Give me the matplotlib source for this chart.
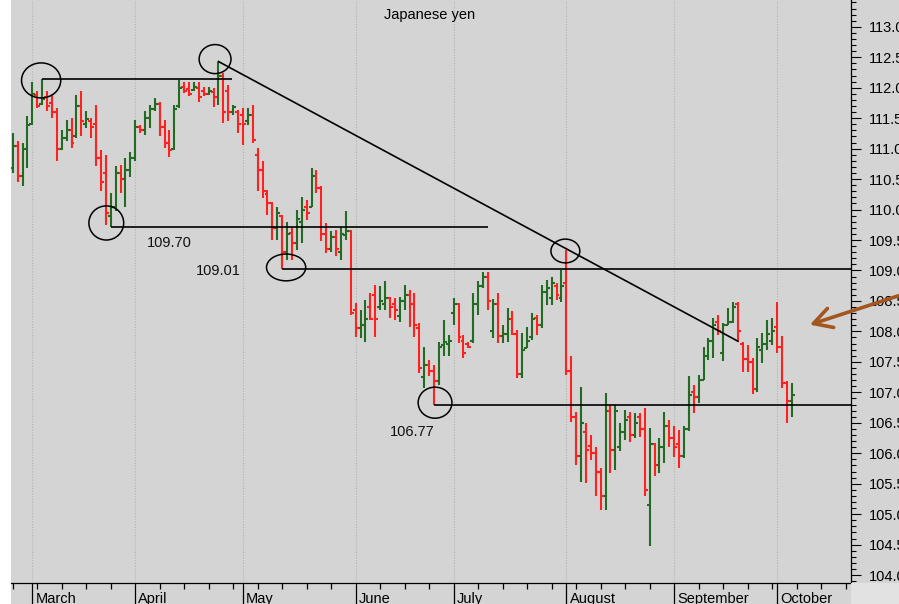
import numpy as np
import pandas as pd
import matplotlib
matplotlib.use("Agg")
import matplotlib.pyplot as plt
from matplotlib.patches import Ellipse, Rectangle
from matplotlib.ticker import FixedLocator, MultipleLocator, FormatStrFormatter, NullFormatter

plt.rcParams['font.family'] = ['Liberation Sans', 'DejaVu Sans']

# ---------------- data ----------------
title = "Japanese yen"
start_date = "2019-02-25"

opens = [110.68, 111.05, 110.55, 111.00, 111.40, 111.88, 111.74, 111.85, 111.75, 111.60,
         111.00, 111.18, 111.30, 111.20, 111.70, 111.40, 111.45, 111.40, 110.85, 110.60,
         109.90, 110.05, 110.60, 110.50, 110.65, 110.85, 111.35, 111.30, 111.50, 111.65,
         111.73, 111.35, 111.10, 111.00, 111.70, 112.02, 111.98, 111.96, 112.00, 111.95,
         111.90, 111.93, 111.85, 112.20, 111.95, 111.60, 111.60, 111.55, 111.45, 111.55,
         110.90, 110.65, 110.25, 110.10, 109.70, 109.90, 109.30, 109.62, 109.45, 109.80,
         110.05, 110.05, 110.55, 110.35, 109.60, 109.35, 109.55, 109.30, 109.58, 109.65,
         108.35, 108.05, 108.10, 108.40, 108.60, 108.40, 108.45, 108.55, 108.45, 108.25,
         108.50, 108.60, 108.45, 108.05, 107.25, 107.45, 107.35, 107.18, 107.78, 107.80,
         108.30, 108.45, 107.85, 107.80, 107.85, 108.45, 108.75, 108.90, 108.00, 108.45,
         107.92, 107.95, 108.20, 107.95, 107.30, 107.72, 107.90, 108.22, 108.10, 108.65,
         108.55, 108.75, 108.55, 108.80, 107.35, 106.60, 105.95, 106.35, 106.12, 106.00,
         105.70, 105.30, 106.70, 106.05, 106.10, 106.35, 106.60, 106.30, 106.60, 106.40,
         105.15, 106.15, 105.80, 106.10, 106.45, 106.25, 106.15, 105.95, 106.40, 107.00,
         106.92, 107.20, 107.60, 107.85, 108.15, 107.65, 108.11, 108.15, 108.45, 107.80,
         107.55, 107.50, 107.05, 107.70, 107.80, 107.85, 108.08, 107.75, 107.15, 106.85]

highs = [111.25, 111.12, 111.09, 111.53, 112.10, 111.94, 112.14, 111.94, 111.88, 111.66,
         111.31, 111.47, 111.50, 111.88, 111.94, 111.61, 111.50, 111.72, 110.98, 110.90,
         110.27, 110.71, 110.73, 110.84, 110.95, 111.47, 111.39, 111.61, 111.72, 111.83,
         111.77, 111.47, 111.31, 111.72, 112.13, 112.10, 112.10, 112.10, 112.10, 112.02,
         112.02, 111.99, 112.43, 112.24, 112.05, 111.72, 111.64, 111.66, 111.66, 111.72,
         111.01, 110.79, 110.32, 110.13, 110.05, 109.91, 109.80, 109.72, 109.99, 110.21,
         110.16, 110.68, 110.65, 110.38, 109.78, 109.64, 109.67, 109.72, 109.97, 109.67,
         108.46, 108.35, 108.52, 108.63, 108.76, 108.74, 108.82, 108.57, 108.55, 108.57,
         108.76, 108.68, 108.63, 108.13, 107.75, 107.53, 107.45, 107.83, 108.19, 107.94,
         108.55, 108.46, 107.94, 107.83, 108.63, 108.82, 108.98, 108.98, 108.54, 108.63,
         108.11, 108.38, 108.33, 108.02, 107.97, 108.08, 108.30, 108.27, 108.76, 108.85,
         108.90, 108.79, 109.01, 109.34, 107.59, 106.68, 107.09, 106.49, 106.30, 106.11,
         105.75, 106.99, 106.79, 106.79, 106.49, 106.71, 106.68, 106.66, 106.66, 106.74,
         106.41, 106.16, 106.25, 106.68, 106.55, 106.44, 106.38, 106.44, 107.26, 107.12,
         107.29, 107.75, 107.89, 108.22, 108.27, 108.13, 108.38, 108.49, 108.49, 107.83,
         107.78, 107.56, 107.89, 107.97, 108.19, 108.22, 108.49, 107.92, 107.18, 107.15]

lows = [110.60, 110.46, 110.38, 110.68, 111.39, 111.66, 111.72, 111.61, 111.50, 110.79,
        110.98, 111.12, 111.01, 111.17, 111.20, 111.34, 111.17, 110.71, 110.30, 109.75,
        109.72, 109.97, 110.27, 110.05, 110.54, 110.79, 111.25, 111.23, 111.34, 111.61,
        111.20, 111.01, 110.87, 110.98, 111.66, 111.91, 111.86, 111.94, 111.77, 111.86,
        111.88, 111.69, 111.72, 111.42, 111.45, 111.56, 111.25, 111.06, 111.39, 111.09,
        110.30, 110.19, 109.91, 109.50, 109.50, 109.02, 109.17, 109.17, 109.34, 109.45,
        109.83, 110.05, 110.27, 109.48, 109.28, 109.31, 109.23, 109.17, 109.50, 108.27,
        107.91, 107.89, 107.83, 108.19, 107.91, 108.35, 108.35, 108.22, 108.19, 108.16,
        108.35, 108.08, 107.91, 107.31, 107.07, 107.26, 106.79, 107.12, 107.59, 107.59,
        108.11, 107.81, 107.56, 107.72, 107.81, 108.27, 108.71, 108.35, 107.89, 107.81,
        107.81, 107.83, 107.94, 107.23, 107.23, 107.72, 107.86, 107.94, 108.05, 108.44,
        108.44, 108.52, 108.49, 107.29, 106.52, 105.81, 105.53, 105.51, 105.89, 105.29,
        105.07, 105.07, 105.67, 105.73, 106.03, 106.22, 106.19, 106.25, 106.27, 105.29,
        104.47, 105.62, 105.67, 105.84, 106.11, 105.94, 105.75, 105.92, 106.36, 106.66,
        106.82, 107.20, 107.53, 107.56, 107.94, 107.51, 108.11, 108.13, 107.83, 107.34,
        107.34, 106.98, 107.01, 107.48, 107.70, 107.78, 107.64, 107.07, 106.49, 106.60]

closes = [111.05, 110.55, 111.00, 111.39, 111.90, 111.70, 111.82, 111.70, 111.60, 111.00,
          111.18, 111.30, 111.10, 111.70, 111.45, 111.48, 111.35, 110.85, 110.45, 109.95,
          110.05, 110.60, 110.50, 110.65, 110.85, 111.35, 111.30, 111.50, 111.65, 111.73,
          111.35, 111.10, 110.97, 111.65, 112.00, 111.95, 111.90, 112.02, 111.85, 111.90,
          111.95, 111.85, 112.20, 111.60, 111.60, 111.68, 111.40, 111.40, 111.55, 111.15,
          110.65, 110.30, 110.10, 109.70, 109.95, 109.30, 109.60, 109.45, 109.85, 110.00,
          109.95, 110.55, 110.35, 109.60, 109.35, 109.55, 109.35, 109.60, 109.65, 108.30,
          108.05, 108.10, 108.20, 108.20, 108.20, 108.50, 108.55, 108.40, 108.35, 108.50,
          108.60, 108.45, 108.10, 107.40, 107.45, 107.35, 107.18, 107.75, 107.82, 107.85,
          108.45, 107.90, 107.65, 107.75, 108.45, 108.75, 108.90, 108.50, 108.45, 107.92,
          107.95, 108.20, 107.95, 107.30, 107.70, 107.85, 108.20, 108.10, 108.65, 108.72,
          108.80, 108.60, 108.75, 107.35, 106.60, 105.95, 106.50, 106.05, 106.00, 105.70,
          105.30, 106.70, 106.05, 106.70, 106.35, 106.55, 106.30, 106.50, 106.40, 105.40,
          106.15, 105.80, 106.10, 106.45, 106.25, 106.10, 105.95, 106.40, 106.95, 106.92,
          107.20, 107.60, 107.85, 108.10, 108.00, 108.10, 108.15, 108.40, 108.00, 107.55,
          107.50, 107.05, 107.75, 107.80, 107.95, 108.00, 107.75, 107.15, 106.85, 106.95]

month_names = ["March", "April", "May", "June", "July", "August", "September", "October"]

# annotation levels: (anchor bar, price, end bar or None = right edge)
level_bars = [6, 20, 55, 86]
level_prices = [highs[6], lows[20], lows[55], lows[86]]
level_ends = [44.8, 97.0, None, None]
level_labels = ["109.70", "109.01", "106.77"]
label_pos = [(31.9, 109.45), (41.9, 108.99), (81.5, 106.35)]
trend_start = (42, highs[42])
trend_end = (148, 107.84)
circle_centers = [(5.8, 112.12), (41.3, 112.47), (19.1, 109.78),
                  (55.8, 109.05), (112.8, 109.32), (86.2, 106.83)]
circle_sizes = [(8.0, 0.575), (6.5, 0.476), (7.1, 0.56),
                (8.0, 0.44), (5.9, 0.39), (6.9, 0.51)]

# ---------------- figure ----------------
W, H = 899, 604
BG = "#d4d4d4"
fig = plt.figure(figsize=(W / 100, H / 100), dpi=100)
fig.patch.set_facecolor(BG)
fig.patches.append(Rectangle((0, 0), 11 / W, 1, transform=fig.transFigure,
                             facecolor="white", edgecolor="none", zorder=0))
fig.patches.append(Rectangle((851 / W, 0), 48 / W, 21 / H, transform=fig.transFigure,
                             facecolor="#e2e2e2", edgecolor="none", zorder=0))

ax = fig.add_axes([11 / W, 21 / H, 840 / W, 583 / H])
ax.set_facecolor(BG)

n = len(closes)
x = np.arange(n)
o = np.array(opens); h = np.array(highs); l = np.array(lows); c = np.array(closes)
up = c >= o
cols = np.where(up, "#236b23", "#ff2020")

xmin, xmax = -0.35, 171.1
ax.set_xlim(xmin, xmax)
ax.set_ylim(103.87, 113.44)

dates = pd.bdate_range(start_date, periods=int(xmax) + 2)
idx = np.arange(len(dates))
month_starts = [i for i in idx[1:] if dates[i].month != dates[i - 1].month]
mondays = [i for i in idx if dates[i].dayofweek == 0]

# month grid lines
for m in month_starts:
    ax.axvline(m, color="#b4b4b4", lw=0.8, ls=(0, (1, 1.5)), zorder=1)

# OHLC bars
lw = 1.5
tick = 0.6
ax.vlines(x, l, h, colors=cols, lw=lw, zorder=3)
ax.hlines(o, x - tick, x, colors=cols, lw=lw, zorder=3)
ax.hlines(c, x, x + tick, colors=cols, lw=lw, zorder=3)

# horizontal levels
for b, p, e in zip(level_bars, level_prices, level_ends):
    ax.plot([b, e if e is not None else xmax], [p, p], color="black", lw=1.2, zorder=4,
            solid_capstyle="butt")

# trend line
ax.plot([trend_start[0], trend_end[0]], [trend_start[1], trend_end[1]],
        color="black", lw=1.2, zorder=4)

# circles
for (cx, cy), (cw, ch) in zip(circle_centers, circle_sizes):
    ax.add_patch(Ellipse((cx, cy), cw, ch, fill=False, edgecolor="black", lw=1.1, zorder=5))

# level labels
for txt, (tx, ty) in zip(level_labels, label_pos):
    ax.text(tx, ty, txt, ha="center", va="center", fontsize=10.5, color="#111111", zorder=6)

# brown arrow
ax.annotate("", xy=(162.7, 108.11), xytext=(182.5, 108.63), xycoords="data",
            textcoords="data", annotation_clip=False,
            arrowprops=dict(arrowstyle="->,head_length=0.65,head_width=0.36",
                            color="#a3561f", lw=2.6, mutation_scale=20,
                            shrinkA=0, shrinkB=0, clip_on=False))

# spines
for s in ["top", "left"]:
    ax.spines[s].set_visible(False)
ax.spines["right"].set_color("black")
ax.spines["bottom"].set_color("black")
ax.spines["right"].set_linewidth(0.9)
ax.spines["bottom"].set_linewidth(0.9)

# y axis on right
ax.yaxis.tick_right()
ax.yaxis.set_major_locator(MultipleLocator(0.5))
ax.yaxis.set_minor_locator(MultipleLocator(0.1))
ax.yaxis.set_major_formatter(FormatStrFormatter("%.2f"))
ax.tick_params(axis="y", which="major", length=7.2, width=0.8, direction="out",
               pad=5.8, labelsize=10.5, colors="black")
ax.tick_params(axis="y", which="minor", length=3.6, width=0.8, direction="out")

# x axis: month separators (long) + weekly ticks
ax.xaxis.set_major_locator(FixedLocator(month_starts))
ax.xaxis.set_minor_locator(FixedLocator(mondays))
ax.xaxis.set_major_formatter(NullFormatter())
ax.tick_params(axis="x", which="major", length=16, width=0.9, direction="out", colors="black")
ax.tick_params(axis="x", which="minor", length=4, width=0.9, direction="out", colors="black")

for m, name in zip(month_starts, month_names):
    ax.annotate(name, xy=(m, 0), xycoords=("data", "axes fraction"),
                xytext=(2.3, -6.3), textcoords="offset points",
                ha="left", va="top", fontsize=10.5, annotation_clip=False)

fig.text(430 / W, 1 - 14.5 / H, title, ha="center", va="center", fontsize=10.5)

fig.savefig("out.png", dpi=100, facecolor=fig.get_facecolor())
